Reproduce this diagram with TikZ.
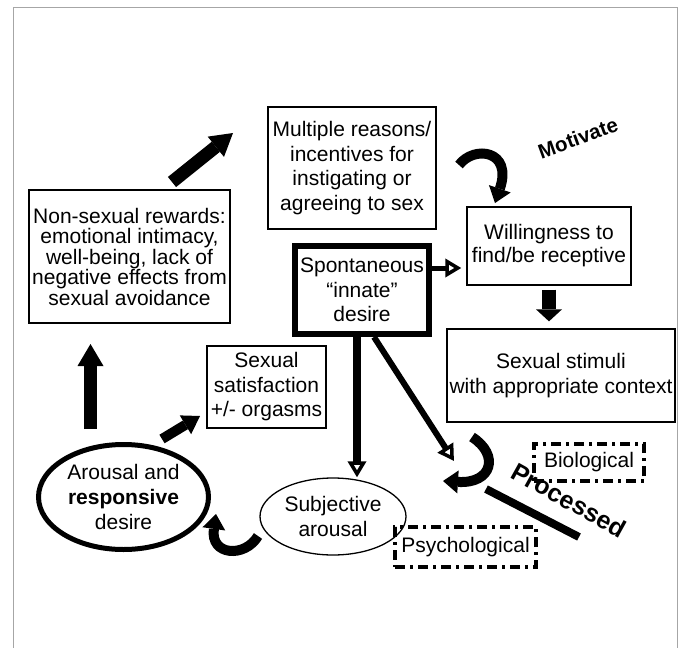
\documentclass[tikz,border=0pt]{standalone}
\usepackage{fontspec}
\setmainfont{Liberation Sans}
\usetikzlibrary{arrows.meta,shapes.geometric}
\tikzset{
  frameLine/.style={draw=gray!70, line width=1pt},
  thinBox/.style={
    draw,
    line width=1.3pt,
    inner sep=0pt,
    align=center,
    font=\fontsize{21}{24.5}\selectfont
  },
  thickBox/.style={
    thinBox,
    line width=6pt
  },
  thinEllipse/.style={
    thinBox,
    ellipse
  },
  thickEllipse/.style={
    thinEllipse,
    line width=5pt
  },
  dashDotBox/.style={
    thinBox,
    line width=4pt,
    dash pattern=on 10pt off 5pt on 3pt off 5pt
  },
  blockArrow/.style={
    line width=13pt,
    -{Triangle[length=22pt,width=26pt,line width=0pt]}
  },
  hollowArrow/.style={
    line width=5pt,
    -{Triangle[length=16pt,width=18pt,fill=white,line width=3.5pt]}
  },
  curvedArrow/.style={
    line width=10pt,
    -{Triangle[length=15pt,width=23pt,line width=0pt]}
  }
}

\begin{document}
\begin{tikzpicture}[x=1pt,y=-1pt]
    \useasboundingbox (0,0) rectangle (681,648);

    % frame
    \draw[frameLine] (13,648) -- (13,7) -- (677,7) -- (677,648);

    % boxes
    \node[thinBox, minimum width=168pt, minimum height=122pt]
      (reasons) at (352,168)
      {Multiple reasons/\\incentives for\\instigating or\\agreeing to sex};
    \node[thinBox, minimum width=201pt, minimum height=133pt,
          font=\fontsize{21}{20.5}\selectfont]
      (rewards) at (129.5,256.5)
      {Non-sexual rewards:\\emotional intimacy,\\well-being, lack of\\negative effects from\\sexual avoidance};
    \node[thinBox, minimum width=164pt, minimum height=78pt,
          font=\fontsize{21}{23}\selectfont]
      (willing) at (549,246) {Willingness to\\find/be receptive};
    \node[thickBox, minimum width=134pt, minimum height=88pt]
      (spont) at (362,290) {Spontaneous\\“innate”\\desire};
    \node[thinBox, minimum width=228pt, minimum height=93pt,
          font=\fontsize{21}{25}\selectfont]
      (stimuli) at (561,375.5) {Sexual stimuli\\with appropriate context};
    \node[thinBox, minimum width=119pt, minimum height=82pt]
      (satisfaction) at (266.5,387) {Sexual\\satisfaction\\+/- orgasms};

    % ellipses
    \node[thickEllipse, minimum width=170pt, minimum height=105pt,
          font=\fontsize{21}{25}\selectfont]
      (arousal) at (123.5,497) {Arousal and\\\textbf{responsive}\\desire};
    \node[thinEllipse, minimum width=146pt, minimum height=77pt,
          font=\fontsize{21}{25}\selectfont]
      (subjective) at (333,516.5) {Subjective\\arousal};

    % dash-dot boxes
    \node[dashDotBox, minimum width=110pt, minimum height=37pt]
      (biological) at (589,462.5) {Biological};
    \node[dashDotBox, minimum width=141pt, minimum height=40pt]
      (psychological) at (465.5,547) {Psychological};

    % labels
    \node[rotate=20, font=\bfseries\fontsize{20.5}{20.5}\selectfont]
      (motivate) at (578,138) {Motivate};
    \node[rotate=-29, font=\bfseries\fontsize{25}{25}\selectfont]
      (processed) at (569,500) {Processed};
    \draw[line width=8pt] (486,489) -- (579,537);

    % arrow ends
    \coordinate (upTail) at (90.5,429);
    \coordinate (upTip) at (90.5,344);
    \coordinate (diagTail) at (172,182);
    \coordinate (diagTip) at (233,133);
    \coordinate (satTail) at (162,439);
    \coordinate (satTip) at (200,416);
    \coordinate (uturnIn) at (454,461);

    % block arrows
    \draw[blockArrow] (upTail) -- (upTip);
    \draw[blockArrow] (diagTail) -- (diagTip);
    \draw[blockArrow, line width=10pt,
          -{Triangle[length=17pt,width=22pt,line width=0pt]}]
      (satTail) -- (satTip);
    \draw[blockArrow, line width=14pt, shorten <=4pt, shorten >=7pt,
          -{Triangle[length=12pt,width=26pt,line width=0pt]}]
      (willing.south) -- (willing.south |- stimuli.north);

    % arrows out of spontaneous desire
    \draw[hollowArrow, shorten >=5pt]
      ([yshift=22pt]spont.east) -- ([yshift=-22pt]willing.west);
    \draw[hollowArrow, line width=8pt]
      ([xshift=-5pt]spont.south) -- ([xshift=-5pt]spont.south |- subjective.north);
    \draw[hollowArrow, line width=6pt]
      ([xshift=12pt]spont.south) -- (uturnIn);

    % curved arrows
    \draw[curvedArrow] (459,165) .. controls (474,145) and (513,150) .. (495,203);
    \draw[curvedArrow] (472,437) .. controls (500,455) and (492,484) .. (443,481);
    \draw[curvedArrow] (258,536) .. controls (245,558) and (210,556) .. (216,514);
\end{tikzpicture}
\end{document}
